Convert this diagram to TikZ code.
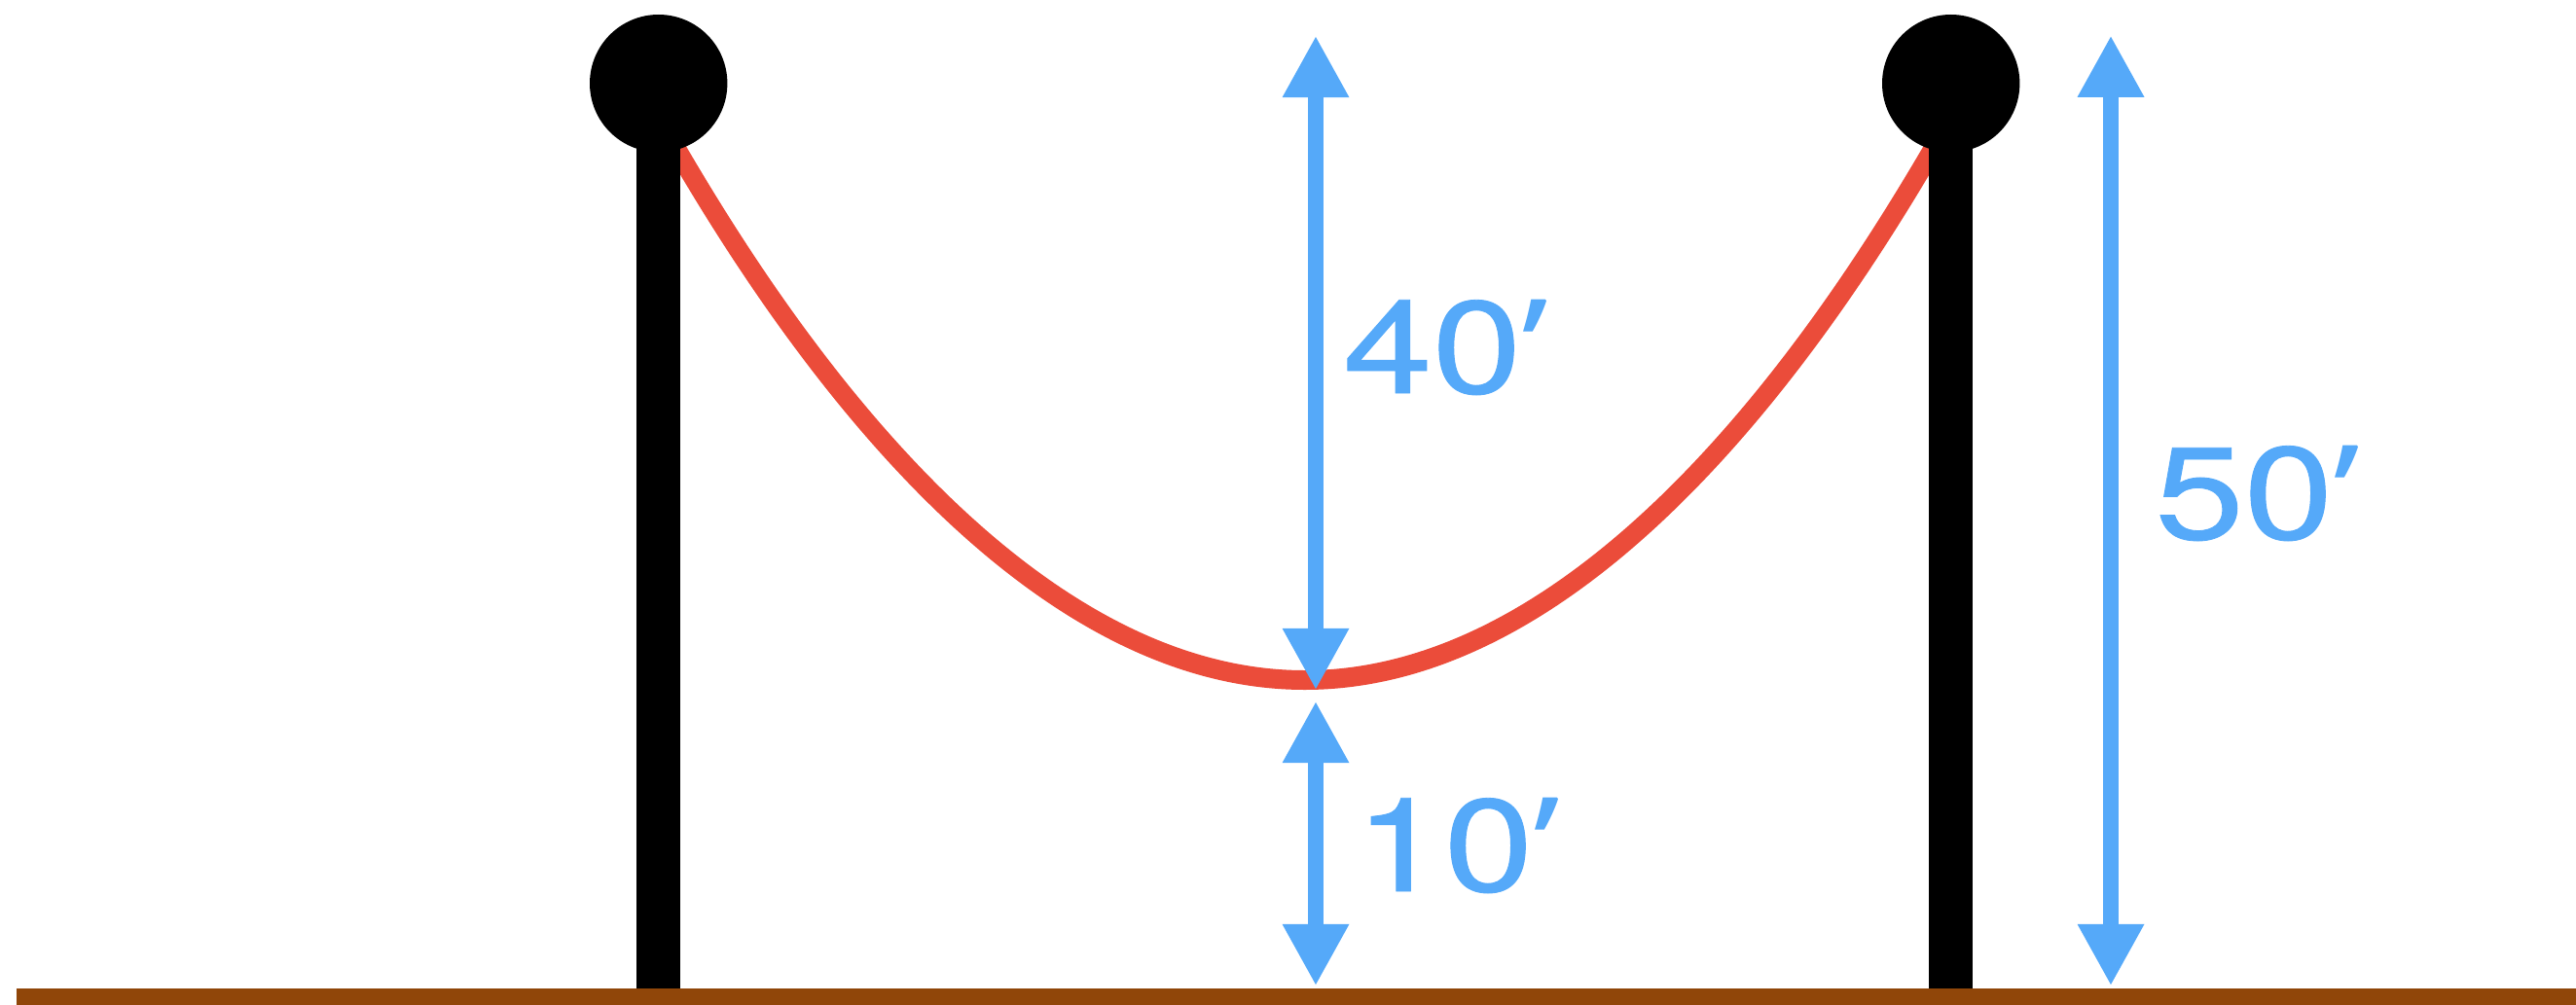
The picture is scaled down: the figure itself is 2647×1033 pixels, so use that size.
\documentclass[tikz,border=0pt]{standalone}
\usepackage{fontspec}
\setmainfont{TeX Gyre Heros}
\newfontfamily\labfont{TeX Gyre Heros}[FakeBold=0.6]
\newfontfamily\quotefont{Open Sans}
\newcommand{\ft}{{\quotefont ’}}
\usetikzlibrary{arrows.meta}
\definecolor{rope}{RGB}{235,76,58}
\definecolor{dim}{RGB}{85,169,249}
\definecolor{soil}{RGB}{144,70,9}
\tikzset{
  post/.style={fill=black, draw=none},
  knob/.style={circle, fill=black, minimum size=141.4pt, inner sep=0pt, draw=none},
  dimline/.style={draw=dim, line width=16.5pt, {Triangle[length=63.5pt,width=64pt]}-{Triangle[length=63.5pt,width=64pt]}},
  dimlabel/.style={text=dim, font=\labfont\fontsize{135}{135}\selectfont, inner sep=0pt, anchor=base west, xscale=1.22},
  ropeline/.style={draw=rope, line width=20pt}
}
\begin{document}
\begin{tikzpicture}[x=1pt, y=-1pt]
\useasboundingbox (0,0) rectangle (2647,1033);
% rope (parabola sagging between the posts)
\coordinate (ropeL) at (676.7,121.4);
\coordinate (ropeB) at (1340.7,699);
\coordinate (ropeR) at (2004.7,121.4);
\draw[ropeline] (ropeL) parabola bend (ropeB) (ropeR);
% posts
\fill[post] (654.3,86) rectangle (699.1,1017);
\fill[post] (1982.1,86) rectangle (2027.3,1017);
\node[knob] (knobL) at (676.7,85.7) {};
\node[knob] (knobR) at (2004.7,85.7) {};
% ground
\fill[soil] (17.3,1016) rectangle (2647,1033);
% dimension lines
\coordinate (a40t) at (1352,36.7);
\coordinate (a40b) at (1352,709.3);
\coordinate (a10t) at (1352,720.7);
\coordinate (a10b) at (1352,1013.3);
\coordinate (a50t) at (2169,36.4);
\coordinate (a50b) at (2169,1013.3);
\draw[dimline] (a40t) -- (a40b);
\draw[dimline] (a10t) -- (a10b);
\draw[dimline] (a50t) -- (a50b);
% labels
\node[dimlabel] (l40) at (1380,404) {40\ft};
\node[dimlabel] (l10) at (1392,916) {10\ft};
\node[dimlabel] (l50) at (2214,554) {50\ft};
\end{tikzpicture}
\end{document}
